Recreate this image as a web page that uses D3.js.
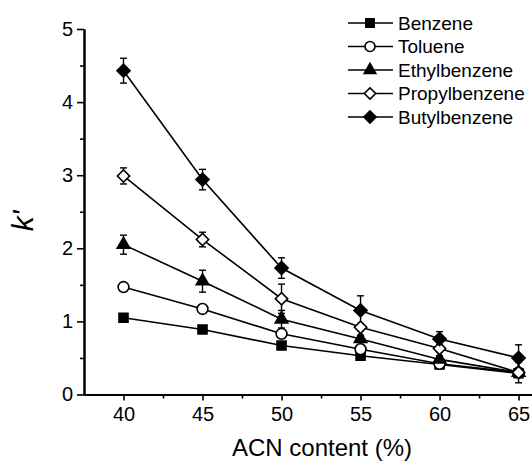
<!DOCTYPE html>
<html>
<head>
<meta charset="utf-8">
<script src="https://cdn.jsdelivr.net/npm/d3@7"></script>
<style>
  body { margin: 0; background: #fff; }
  svg { display: block; font-family: Arial, "Liberation Sans", sans-serif; }
</style>
</head>
<body>
<svg id="chart"></svg>
<script>
const W = 532, H = 464;

const acn = [40, 45, 50, 55, 60, 65];
const seriesNames = ["Benzene", "Toluene", "Ethylbenzene", "Propylbenzene", "Butylbenzene"];
const benzene = [1.05, 0.89, 0.67, 0.53, 0.41, 0.29];
const benzeneErr = [0.03, 0.03, 0.03, 0.03, 0.03, 0.03];
const toluene = [1.47, 1.17, 0.83, 0.62, 0.42, 0.30];
const tolueneErr = [0.04, 0.06, 0.05, 0.05, 0.04, 0.14];
const ethyl = [2.05, 1.55, 1.03, 0.76, 0.48, 0.30];
const ethylErr = [0.13, 0.15, 0.12, 0.05, 0.05, 0.05];
const propyl = [2.99, 2.12, 1.31, 0.92, 0.63, 0.30];
const propylErr = [0.11, 0.10, 0.20, 0.05, 0.05, 0.05];
const butyl = [4.43, 2.94, 1.73, 1.15, 0.76, 0.50];
const butylErr = [0.17, 0.14, 0.14, 0.20, 0.10, 0.18];
const yTicks = [0, 1, 2, 3, 4, 5];
const xTicks = [40, 45, 50, 55, 60, 65];

const values = [benzene, toluene, ethyl, propyl, butyl];
const errors = [benzeneErr, tolueneErr, ethylErr, propylErr, butylErr];
// marker style per series
const markers = [
  {type: d3.symbolSquare, size: 81, rot: 0, fill: "#000"},
  {type: d3.symbolCircle, size: 92, rot: 0, fill: "#fff"},
  {type: d3.symbolTriangle, size: 68, rot: 0, fill: "#000"},
  {type: d3.symbolSquare, size: 76, rot: 45, fill: "#fff"},
  {type: d3.symbolSquare, size: 86, rot: 45, fill: "#000"}
];

const svg = d3.select("#chart").attr("width", W).attr("height", H);

const x = d3.scaleLinear().domain([37.5, 65.85]).range([84, 532]);
const y = d3.scaleLinear().domain([0, 5]).range([394.5, 29]);

// axes
const xMinor = d3.range(42.5, 66, 5);
const yMinor = d3.range(0.5, 5, 1);

function styleAxis(g) {
  g.selectAll("path.domain").attr("stroke-width", 2);
  g.selectAll(".tick line").attr("stroke-width", 1.6);
  g.selectAll("text").attr("font-size", 20).attr("fill", "#000")
    .attr("font-family", "Arial, 'Liberation Sans', sans-serif");
}

svg.append("g").attr("transform", `translate(0,${y(0)})`)
  .call(d3.axisBottom(x).tickValues(xMinor).tickSize(4).tickSizeOuter(0).tickFormat(""))
  .call(styleAxis);
svg.append("g").attr("transform", `translate(0,${y(0)})`)
  .call(d3.axisBottom(x).tickValues(xTicks).tickSize(6).tickSizeOuter(0).tickPadding(6).tickFormat(d3.format("d")))
  .call(styleAxis);

svg.append("g").attr("transform", `translate(${x(37.5)},0)`)
  .call(d3.axisLeft(y).tickValues(yMinor).tickSize(4).tickSizeOuter(0).tickFormat(""))
  .call(styleAxis);
svg.append("g").attr("transform", `translate(${x(37.5)},0)`)
  .call(d3.axisLeft(y).tickValues(yTicks).tickSize(7).tickSizeOuter(0).tickPadding(4).tickFormat(d3.format("d")))
  .call(styleAxis);

// axis titles
svg.append("text")
  .attr("x", 322).attr("y", 456)
  .attr("text-anchor", "middle")
  .attr("font-size", 24)
  .text("ACN content (%)");

svg.append("text")
  .attr("transform", "translate(33,221) rotate(-90)")
  .attr("text-anchor", "middle")
  .attr("font-size", 30)
  .attr("font-style", "italic")
  .text("k'");

// series
const line = d3.line().x((d, i) => x(acn[i])).y(d => y(d));
const plot = svg.append("g");

values.forEach(vals => {
  plot.append("path").datum(vals)
    .attr("d", line)
    .attr("fill", "none").attr("stroke", "#000").attr("stroke-width", 1.6);
});

values.forEach((vals, s) => {
  const eg = plot.append("g");
  vals.forEach((v, i) => {
    const e = errors[s][i];
    const cx = x(acn[i]);
    eg.append("line").attr("x1", cx).attr("x2", cx)
      .attr("y1", y(v - e)).attr("y2", y(v + e));
    [v - e, v + e].forEach(t => {
      eg.append("line").attr("x1", cx - 3.5).attr("x2", cx + 3.5)
        .attr("y1", y(t)).attr("y2", y(t));
    });
  });
  eg.attr("stroke", "#000").attr("stroke-width", 1.4);
});

values.forEach((vals, s) => {
  const m = markers[s];
  const sym = d3.symbol().type(m.type).size(m.size);
  plot.append("g").selectAll("path").data(vals).join("path")
    .attr("d", sym)
    .attr("transform", (d, i) => `translate(${x(acn[i])},${y(d)}) rotate(${m.rot})`)
    .attr("fill", m.fill).attr("stroke", "#000").attr("stroke-width", 1.6);
});

// legend
const legend = svg.append("g").attr("transform", "translate(348,23)");
seriesNames.forEach((name, s) => {
  const m = markers[s];
  const row = legend.append("g").attr("transform", `translate(0,${s * 23.5})`);
  row.append("line").attr("x1", 0).attr("x2", 45).attr("y1", 0).attr("y2", 0)
    .attr("stroke", "#000").attr("stroke-width", 1.6);
  row.append("path")
    .attr("d", d3.symbol().type(m.type).size(m.size * 0.85))
    .attr("transform", `translate(22,0) rotate(${m.rot})`)
    .attr("fill", m.fill).attr("stroke", "#000").attr("stroke-width", 1.6);
  row.append("text").attr("x", 50).attr("y", 0)
    .attr("dy", "0.35em")
    .attr("font-size", 19)
    .text(name);
});
</script>
</body>
</html>
